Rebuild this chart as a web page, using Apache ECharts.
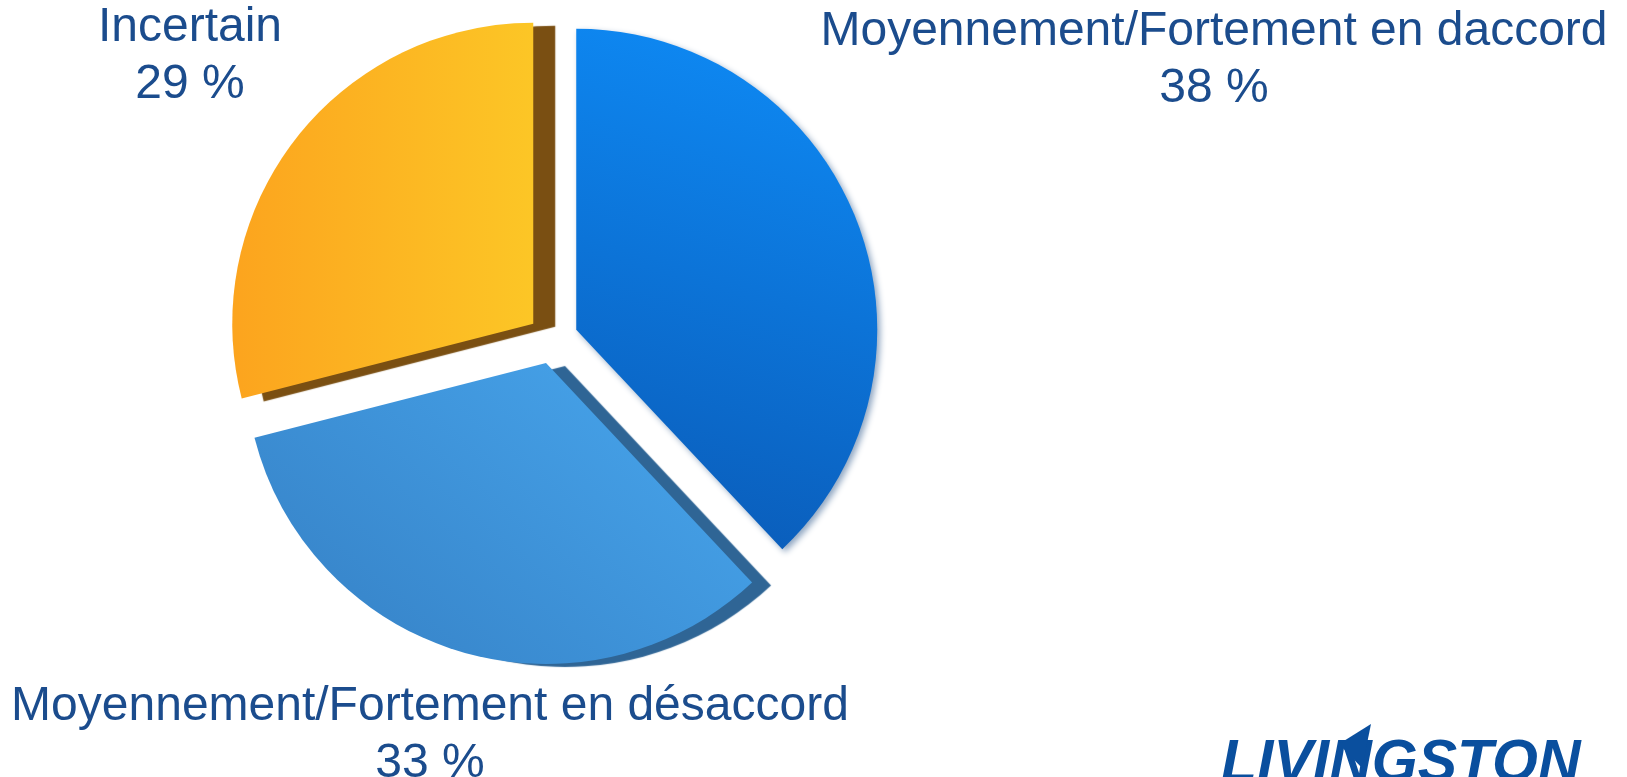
<!DOCTYPE html>
<html>
<head>
<meta charset="utf-8">
<script src="https://cdn.jsdelivr.net/npm/echarts@6/dist/echarts.min.js"></script>
<style>
html, body { margin: 0; padding: 0; background: #fff; }
#chart { width: 1627px; height: 777px; }
</style>
</head>
<body>
<div id="chart"></div>
<script>
// donnees du graphique
var categories = ['Moyennement/Fortement en daccord', 'Moyennement/Fortement en désaccord', 'Incertain'];
var values = [38, 33, 29];

// couleurs des parts (face, cote)
var faceColors = [
	['#0e8bf6', '#0a5cb9'],
	['#46a3ea', '#3886cb'],
	['#fcc626', '#fca41e']
];
var sideColors = ['rgba(10,60,120,0.45)', '#2f6595', '#7a4f12'];
var labelPos = [[1214, 60], [430, 735], [190, 56]];

function initPieChart() {
	var myChart = echarts.init(document.getElementById('chart'));
	var data = [];
	var graphics = [];
	for (var i = 0; i < categories.length; i++) {
		var grad = (i == 2)
			? new echarts.graphic.LinearGradient(1, 0, 0, 0, [{offset: 0, color: faceColors[i][0]}, {offset: 1, color: faceColors[i][1]}])
			: new echarts.graphic.LinearGradient(0.8, 0, 0.3, 1, [{offset: 0, color: faceColors[i][0]}, {offset: 1, color: faceColors[i][1]}]);
		data.push({
			name: categories[i],
			value: values[i],
			selected: true,
			itemStyle: {
				color: grad,
				borderWidth: 0,
				shadowColor: sideColors[i],
				shadowBlur: i == 0 ? 6 : 1,
				shadowOffsetX: i == 0 ? 3 : (i == 2 ? 22 : 19),
				shadowOffsetY: 3
			}
		});
		// etiquette de la part
		graphics.push({
			type: 'text',
			x: labelPos[i][0],
			y: labelPos[i][1],
			z: 10,
			style: {
				text: categories[i] + '\n' + values[i] + ' %',
				fill: '#1b4c8d',
				font: '48px "Liberation Sans", Arial, sans-serif',
				lineHeight: 57,
				align: 'center',
				verticalAlign: 'middle'
			}
		});
	}
	// logo
	graphics.push({
		type: 'text',
		x: 1221,
		y: 735,
		style: {
			text: 'LIVINGSTON',
			fill: '#0a4f9e',
			font: 'italic 900 59px "Liberation Sans", Arial, sans-serif',
			verticalAlign: 'top'
		}
	});
	graphics.push({
		type: 'polygon',
		shape: { points: [[1339, 744], [1371, 724], [1362, 768]] },
		style: { fill: '#0a4f9e' }
	});
	var option = {
		backgroundColor: '#fff',
		animation: false,
		graphic: graphics,
		series: [{
			type: 'pie',
			center: [553, 339],
			radius: [0, 301],
			startAngle: 90,
			selectedMode: 'multiple',
			selectedOffset: 25,
			emphasis: { disabled: true },
			label: { show: false },
			labelLine: { show: false },
			data: data
		}]
	};
	myChart.setOption(option);
}

initPieChart();
</script>
</body>
</html>
